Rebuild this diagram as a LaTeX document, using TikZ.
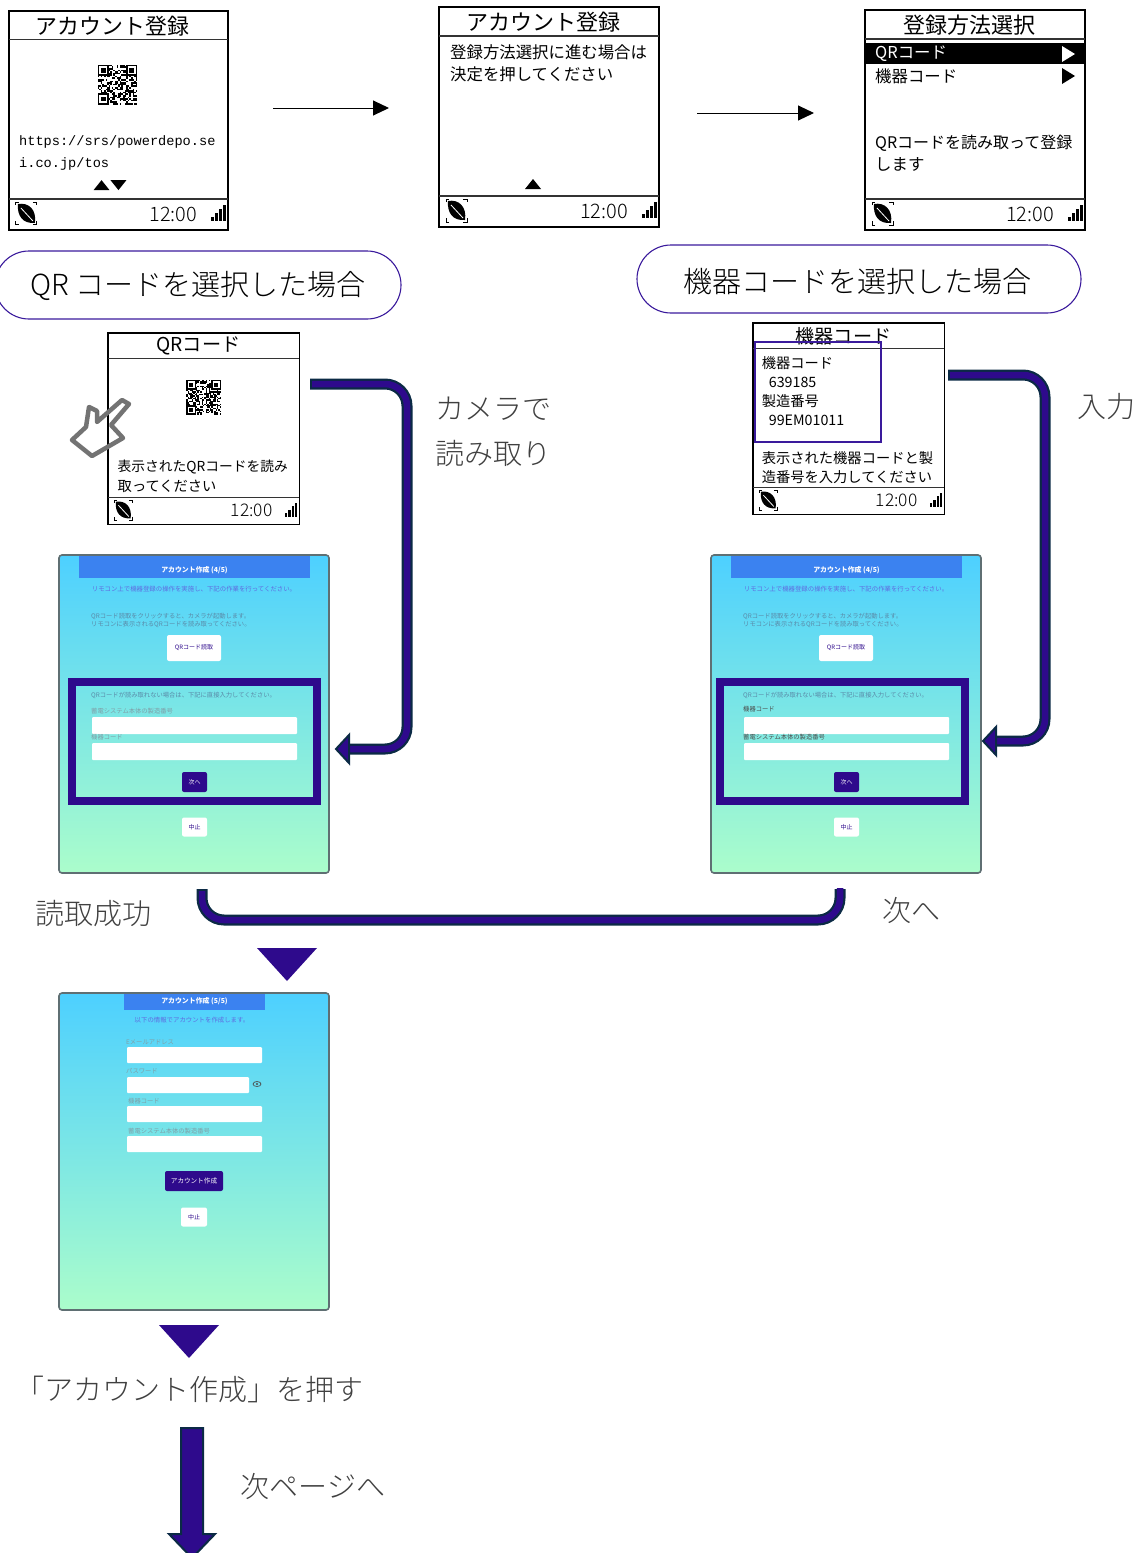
\documentclass[tikz,border=0pt]{standalone}
\usepackage{fontspec}
\setmainfont{Noto Sans CJK JP}
\newfontfamily\jplight[UprightFont={* Light}]{Noto Sans CJK JP}
\newfontfamily\pixelmono{Liberation Mono}
\usetikzlibrary{positioning,arrows.meta}

\definecolor{flowpurple}{HTML}{2E0A8C}
\definecolor{flowedge}{HTML}{0B2A45}
\definecolor{pillblue}{HTML}{3A1A9C}
\definecolor{webtop}{HTML}{4DD0FF}
\definecolor{webbottom}{HTML}{ABFDCB}
\definecolor{webborder}{HTML}{5F6F73}
\definecolor{webhead}{HTML}{3B82F0}
\definecolor{webblue}{HTML}{5F6BE0}
\definecolor{webgrey}{HTML}{5A8AA8}
\definecolor{webpale}{HTML}{7F9FA8}

\tikzset{
  remotebox/.style={draw=black, line width=1.6pt, anchor=north west, inner sep=0pt, outer sep=0pt, minimum width=220pt, minimum height=220pt},
  remoteline/.style={draw=black!80, line width=1.2pt},
  remotetitle/.style={font=\fontsize{22}{24}\selectfont, inner sep=0pt},
  remotetext/.style={font=\fontsize{16.4}{20}\selectfont, anchor=west, inner sep=0pt, yshift=-1pt},
  remotesmall/.style={font=\fontsize{16.4}{20}\selectfont, anchor=west, inner sep=0pt, yshift=-1pt},
  remoteurl/.style={font=\pixelmono\fontsize{13.7}{16}\selectfont, anchor=west, inner sep=0pt, yshift=-1.5pt},
  flowlabel/.style={font=\jplight\fontsize{29}{34}\selectfont, text=black!75, inner sep=0pt, yshift=-1.5pt},
  pillbox/.style={draw=pillblue, line width=1.1pt, rounded corners=34pt, minimum height=68pt, inner sep=0pt, outer sep=0pt},
  pilltext/.style={font=\jplight\fontsize{29}{34}\selectfont, inner sep=0pt, yshift=-1.5pt},
  thinarrow/.style={draw=black, line width=1pt, -{Triangle[length=16pt,width=15pt]}},
  webpage/.style={draw=webborder, line width=1.6pt, rounded corners=3pt, top color=webtop, bottom color=webbottom, anchor=north west, inner sep=0pt, outer sep=0pt, minimum width=270pt, minimum height=318pt},
  webhead/.style={fill=webhead, inner sep=0pt, minimum height=22pt},
  webfield/.style={fill=white, rounded corners=1pt, inner sep=0pt, minimum height=17pt},
  webbutton/.style={fill=white, rounded corners=2pt, inner sep=0pt, text=flowpurple, font=\fontsize{6}{7}\selectfont},
  webdark/.style={fill=flowpurple, rounded corners=2pt, inner sep=0pt, text=white, font=\fontsize{6}{7}\selectfont},
  webtitle/.style={font=\bfseries\fontsize{6.9}{8}\selectfont, text=white, inner sep=0pt},
  webtext/.style={font=\fontsize{6.3}{7}\selectfont, text=webgrey, anchor=west, inner sep=0pt},
  webnote/.style={font=\fontsize{6.4}{7}\selectfont, text=webblue, inner sep=0pt},
  webframe/.style={draw=flowpurple, line width=8pt},
  flowouter/.style={draw=flowedge, line width=11pt, rounded corners=22pt},
  flowinner/.style={draw=flowpurple, line width=6.5pt, rounded corners=22pt, shorten <=2pt, shorten >=-1pt},
  flowhead/.style={fill=flowpurple, draw=flowedge, line width=2pt, line join=miter},
  droptri/.style={fill=flowpurple}
}

\newcommand{\qrsquare}[4]{%
  \begin{scope}[shift={(#1,#2)},scale=#3]
    \pgfmathsetseed{#4}
    \foreach \i in {0,...,24}
      \foreach \j in {0,...,24}{
        \pgfmathrandominteger{\qrbit}{0}{1}
        \ifnum\qrbit=1 \fill (\i,\j) rectangle ++(1,1); \fi
      }
    \foreach \i/\j in {0/0,18/0,0/18}{
      \fill[white] (\i,\j) rectangle ++(7,7);
      \draw[line width=1.6pt] (\i+.5,\j+.5) rectangle ++(6,6);
      \fill (\i+2,\j+2) rectangle ++(3,3);
    }
  \end{scope}}

\newcommand{\remotescreen}[6]{%
  \begin{scope}[shift={(#2,#3)},scale=#4,transform shape]
    \node[remotebox] (#1) at (0,0) {};
    \node[remotetitle] (#1title) at (104,15) {#5};
    \draw[remoteline] (0,29) -- (220,29);
    \draw[remoteline] (0,189) -- (220,189);
    \fill (9,194) .. controls (20,192) and (28,200) .. (26,213) .. controls (14,214) and (8,206) .. cycle;
    \draw[white, line width=.8pt] (12,198) -- (24,211);
    \draw[line width=1pt] (7,195) -- (7,192) -- (10,192) (24,192) -- (28,192) -- (28,195) (28,211) -- (28,215) -- (24,215) (10,215) -- (7,215) -- (7,211);
    \node[inner sep=0pt, font=\jplight\fontsize{20}{22}\selectfont] (#1time) at (165,204) {12:00};
    \foreach \k/\t in {0/207,1/203,2/199,3/195}
      \fill (203+\k*4,\t) rectangle ++(2.8,211-\t);
    #6
  \end{scope}}

\newcommand{\stepfour}[5]{%
  \begin{scope}[shift={(#2,555)}]
    \node[webpage] (#1) at (0,0) {};
    \node[webhead, minimum width=231pt] (#1head) at (135.5,12) {};
    \node[webtitle] (#1title) at (135.5,15) {アカウント作成 (4/5)};
    \node[webnote] (#1note) at (135,34) {リモコン上で機器登録の操作を実施し、下記の作業を行ってください。};
    \node[webtext] (#1texta) at (32,61.5) {QRコード読取をクリックすると、カメラが起動します。};
    \node[webtext] (#1textb) at (32,69.5) {リモコンに表示されるQRコードを読み取ってください。};
    \node[webbutton, minimum width=54pt, minimum height=26pt] (#1read) at (135,93) {QRコード読取};
    \draw[webframe] (#3,127) rectangle (#3+245,246);
    \node[webtext] (#1textc) at (32,140.5) {QRコードが読み取れない場合は、下記に直接入力してください。};
    #4
    \node[webfield, minimum width=205pt] (#1fielda) at (135.5,170.5) {};
    #5
    \node[webfield, minimum width=205pt] (#1fieldb) at (135.5,196.5) {};
    \node[webdark, minimum width=25pt, minimum height=20pt] (#1next) at (135.5,227) {次へ};
    \node[webbutton, minimum width=25pt, minimum height=19pt] (#1stop) at (135.5,272) {中止};
  \end{scope}}

\begin{document}
\begin{tikzpicture}[x=1pt,y=-1pt]
  \useasboundingbox (0,0) rectangle (1135,1553);

  \remotescreen{accountqr}{9}{11}{.995}{アカウント登録}{
    \qrsquare{89}{54}{1.6}{3}
    \node[remoteurl] (accounturla) at (10,130) {https://srs/powerdepo.se};
    \node[remoteurl] (accounturlb) at (10,152) {i.co.jp/tos};
    \fill (85,180) -- (101,180) -- (93,170) -- cycle;
    \fill (102,170) -- (118,170) -- (110,180) -- cycle;
  }
  \remotescreen{accountnext}{439}{7}{1}{アカウント登録}{
    \node[remotetext] (nexta) at (11,44) {登録方法選択に進む場合は};
    \node[remotetext] (nextb) at (11,66) {決定を押してください};
    \fill (86,182) -- (102,182) -- (94,172) -- cycle;
  }
  \remotescreen{method}{865}{10}{1}{登録方法選択}{
    \fill (1,33) rectangle (219,54);
    \node[remotetext, text=white] (methodqr) at (10,43) {QRコード};
    \node[remotetext] (methodcode) at (10,65) {機器コード};
    \fill[white] (197,36) -- (210,44) -- (197,52) -- cycle;
    \fill (197,58) -- (210,66) -- (197,74) -- cycle;
    \node[remotetext, font=\fontsize{16}{20}\selectfont] (methoda) at (10,132) {QRコードを読み取って登録};
    \node[remotetext] (methodb) at (10,153) {します};
  }

  \coordinate (firststart) at (273,108);
  \coordinate (firstend) at (389,108);
  \draw[thinarrow] (firststart) -- (firstend);
  \coordinate (secondstart) at (697,113);
  \coordinate (secondend) at (814,113);
  \draw[thinarrow] (secondstart) -- (secondend);

  \node[pillbox, minimum width=406pt] (qrpill) at (198,285) {};
  \node[pilltext] (qrpilltext) at (198,284) {QR コードを選択した場合};
  \node[pillbox, minimum width=444pt] (codepill) at (859,279) {};
  \node[pilltext] (codepilltext) at (857,280) {機器コードを選択した場合};

  \remotescreen{qrscreen}{108}{333}{.87}{QRコード}{
    \qrsquare{90}{54}{1.6}{8}
    \node[remotesmall, font=\fontsize{15.8}{20}\selectfont] (qrscreena) at (11,153) {表示されたQRコードを読み};
    \node[remotesmall] (qrscreenb) at (11,175) {取ってください};
  }
  \draw[draw=black!55, line width=4.5pt, line join=round, line cap=round] (72,440) -- (86,427) -- (89,407) -- (97,411) -- (97,422) -- (122,400) -- (129,404) -- (111,425) -- (123,438) -- (92,456) -- cycle;

  \remotescreen{codescreen}{753}{323}{.87}{機器コード}{
    \node[remotesmall] (codelabel) at (10,45) {機器コード};
    \node[remotesmall] (codevalue) at (18,67) {639185};
    \node[remotesmall] (seriallabel) at (10,89) {製造番号};
    \node[remotesmall] (serialvalue) at (18,111) {99EM01011};
    \node[remotesmall] (codescreena) at (10,154) {表示された機器コードと製};
    \node[remotesmall] (codescreenb) at (10,176) {造番号を入力してください};
    \draw[draw=pillblue, line width=1.6pt] (2,22) rectangle (147,137);
  }

  \stepfour{stepqr}{59}{13}
    {\node[webtext, text=webpale] (stepqrlabela) at (32,156) {蓄電システム本体の製造番号};}
    {\node[webtext, text=webpale] (stepqrlabelb) at (32,182) {機器コード};}
  \stepfour{stepcode}{711}{9}
    {\node[webtext, text=black!70] (stepcodelabela) at (32,154) {機器コード};}
    {\node[webtext, text=black!70] (stepcodelabelb) at (32,182) {蓄電システム本体の製造番号};}

  \coordinate (camerastart) at (310,384);
  \coordinate (cameraturna) at (407,384);
  \coordinate (cameraturnb) at (407,749);
  \coordinate (cameraend) at (349,749);
  \draw[flowouter] (camerastart) -- (cameraturna) -- (cameraturnb) -- (cameraend);
  \draw[flowinner] (camerastart) -- (cameraturna) -- (cameraturnb) -- (cameraend);
  \draw[flowhead] (cameraend) ++(0,-14) -- (336,749) -- (349,763) -- cycle;

  \coordinate (inputstart) at (948,375);
  \coordinate (inputturna) at (1045,375);
  \coordinate (inputturnb) at (1045,741);
  \coordinate (inputend) at (996,741);
  \draw[flowouter] (inputstart) -- (inputturna) -- (inputturnb) -- (inputend);
  \draw[flowinner] (inputstart) -- (inputturna) -- (inputturnb) -- (inputend);
  \draw[flowhead] (inputend) ++(0,-14) -- (983,741) -- (996,755) -- cycle;

  \coordinate (mergeleft) at (202,889);
  \coordinate (mergeturna) at (202,920);
  \coordinate (mergeturnb) at (840,920);
  \coordinate (mergeright) at (840,889);
  \draw[flowouter] (mergeleft) -- (mergeturna) -- (mergeturnb) -- (mergeright);
  \draw[flowinner] (mergeleft) -- (mergeturna) -- (mergeturnb) -- (mergeright);

  \node[flowlabel] (cameraa) at (493,407) {カメラで};
  \node[flowlabel] (camerab) at (493,452) {読み取り};
  \node[flowlabel] (inputlabel) at (1106,405) {入力};
  \node[flowlabel] (readok) at (93,912) {読取成功};
  \node[flowlabel] (nextlabel) at (911,909) {次へ};

  \fill[droptri] (257,948) -- (317,948) -- (287,981) -- cycle;

  \begin{scope}[shift={(59,993)}]
    \node[webpage, minimum height=317pt] (stepfive) at (0,0) {};
    \node[webhead, minimum width=141pt, minimum height=16pt] (stepfivehead) at (135.5,9) {};
    \node[webtitle] (stepfivetitle) at (135.5,8.5) {アカウント作成 (5/5)};
    \node[webnote] (stepfivenote) at (133,27) {以下の情報でアカウントを作成します。};
    \node[webtext, text=webpale] (maillabel) at (67,49) {Eメールアドレス};
    \node[webfield, minimum width=135pt, minimum height=16pt] (mailfield) at (135.5,62) {};
    \node[webtext, text=webpale] (passlabel) at (67,78) {パスワード};
    \node[webfield, minimum width=122pt, minimum height=16pt] (passfield) at (129,92) {};
    \draw[black!70, line width=.7pt] (198,91) ellipse [x radius=4, y radius=2.5];
    \fill[black!70] (198,91) circle [radius=1.2];
    \node[webtext, text=webpale] (codefieldlabel) at (69,108) {機器コード};
    \node[webfield, minimum width=135pt, minimum height=16pt] (codefield) at (135.5,121) {};
    \node[webtext, text=webpale] (serialfieldlabel) at (69,138) {蓄電システム本体の製造番号};
    \node[webfield, minimum width=135pt, minimum height=16pt] (serialfield) at (135.5,151) {};
    \node[webdark, minimum width=58pt, minimum height=20pt, font=\fontsize{6.6}{7}\selectfont] (createbutton) at (135,188) {アカウント作成};
    \node[webbutton, minimum width=26pt, minimum height=19pt] (fivestop) at (135,224) {中止};
  \end{scope}

  \fill[droptri] (159,1325) -- (219,1325) -- (189,1358) -- cycle;
  \node[flowlabel] (pressnote) at (190,1388) {「アカウント作成」を押す};

  \draw[flowhead] (181,1428) -- (203,1428) -- (203,1534) -- (215,1534) -- (192,1558) -- (169,1534) -- (181,1534) -- cycle;
  \node[flowlabel] (nextpage) at (313,1485) {次ページへ};
\end{tikzpicture}
\end{document}
